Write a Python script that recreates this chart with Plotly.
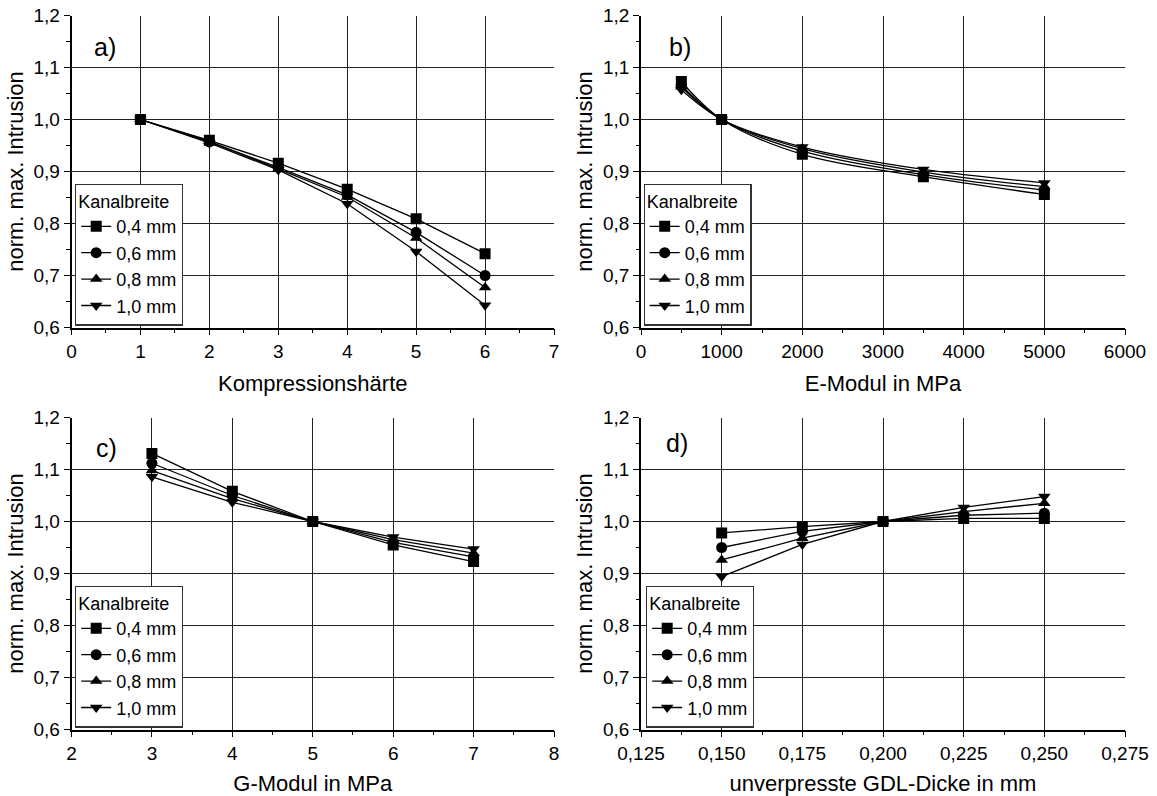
import plotly.graph_objects as go

# ---------------- data ----------------
series_names = ["0,4 mm", "0,6 mm", "0,8 mm", "1,0 mm"]
symbols = ["square", "circle", "triangle-up", "triangle-down"]

x_a = [1, 2, 3, 4, 5, 6]
y_a_04 = [1.0, 0.960, 0.916, 0.866, 0.809, 0.742]
y_a_06 = [1.0, 0.957, 0.908, 0.855, 0.783, 0.700]
y_a_08 = [1.0, 0.958, 0.905, 0.851, 0.772, 0.677]
y_a_10 = [1.0, 0.955, 0.903, 0.838, 0.746, 0.643]

x_b = [500, 1000, 2000, 3500, 5000]
y_b_04 = [1.073, 1.0, 0.933, 0.890, 0.856]
y_b_06 = [1.066, 1.0, 0.939, 0.894, 0.864]
y_b_08 = [1.063, 1.0, 0.944, 0.899, 0.871]
y_b_10 = [1.057, 1.0, 0.947, 0.904, 0.878]

x_c = [3, 4, 5, 6, 7]
y_c_04 = [1.131, 1.058, 1.0, 0.955, 0.923]
y_c_06 = [1.112, 1.050, 1.0, 0.960, 0.932]
y_c_08 = [1.098, 1.044, 1.0, 0.965, 0.939]
y_c_10 = [1.086, 1.037, 1.0, 0.970, 0.947]

x_d = [0.150, 0.175, 0.200, 0.225, 0.250]
y_d_04 = [0.978, 0.990, 1.0, 1.006, 1.006]
y_d_06 = [0.950, 0.981, 1.0, 1.012, 1.016]
y_d_08 = [0.926, 0.968, 1.0, 1.019, 1.035]
y_d_10 = [0.894, 0.956, 1.0, 1.027, 1.048]

panels = [
    dict(x=x_a, ys=[y_a_04, y_a_06, y_a_08, y_a_10], shape="linear"),
    dict(x=x_b, ys=[y_b_04, y_b_06, y_b_08, y_b_10], shape="spline"),
    dict(x=x_c, ys=[y_c_04, y_c_06, y_c_08, y_c_10], shape="linear"),
    dict(x=x_d, ys=[y_d_04, y_d_06, y_d_08, y_d_10], shape="linear"),
]
x_titles = ["Kompressionshärte", "E-Modul in MPa", "G-Modul in MPa",
            "unverpresste GDL-Dicke in mm"]
y_title = "norm. max. Intrusion"
panel_labels = ["a)", "b)", "c)", "d)"]
legend_title = "Kanalbreite"

# ---------------- layout ----------------
W, H = 1157, 796
FONT = "Liberation Sans, Arial, sans-serif"
xdoms = [[71.5 / W, 554 / W], [641 / W, 1125 / W]]
ydoms = [[1 - 327.5 / H, 1 - 15.5 / H], [1 - 729.5 / H, 1 - 417.5 / H]]

x_axes_cfg = [
    dict(range=[0, 7], dtick=1, tick0=0, minor_dtick=0.5, fmt="d"),
    dict(range=[0, 6000], dtick=1000, tick0=0, minor_dtick=500, fmt="d"),
    dict(range=[2, 8], dtick=1, tick0=2, minor_dtick=0.5, fmt="d"),
    dict(range=[0.125, 0.275], dtick=0.025, tick0=0.125, minor_dtick=0.0125, fmt=".3f"),
]

legend_pos = [
    (75 / W, 1 - 325.5 / H),
    (643.5 / W, 1 - 325.5 / H),
    (75 / W, 1 - 727.5 / H),
    (646 / W, 1 - 727.5 / H),
]
label_pos = [(0.07, 0.90), (0.081, 0.90), (0.072, 0.902), (0.075, 0.918)]
title_standoff = [15, 15, 13, 13]

fig = go.Figure()
layout = dict(
    width=W, height=H,
    margin=dict(l=0, r=0, t=0, b=0),
    paper_bgcolor="white", plot_bgcolor="white",
    font=dict(family=FONT, size=19, color="black"),
    separators=",.",
    annotations=[],
)

for i, p in enumerate(panels):
    idx = "" if i == 0 else str(i + 1)
    leg = "legend" if i == 0 else f"legend{i + 1}"
    for s, ys in enumerate(p["ys"]):
        fig.add_trace(go.Scatter(
            x=p["x"], y=ys, mode="lines+markers",
            name=series_names[s],
            line=dict(color="black", width=1.3, shape=p["shape"]),
            marker=dict(symbol=symbols[s], size=11, color="black"),
            xaxis="x" + idx, yaxis="y" + idx,
            legend=leg, showlegend=True,
        ))
    col = i % 2
    row = i // 2
    xc = x_axes_cfg[i]
    layout["xaxis" + idx] = dict(
        domain=xdoms[col], anchor="y" + idx, range=xc["range"],
        tickmode="linear", tick0=xc["tick0"], dtick=xc["dtick"], tickformat=xc["fmt"],
        ticks="outside", ticklen=6, tickwidth=1.3, tickcolor="black",
        minor=dict(ticks="outside", ticklen=3.5, tickwidth=1.2, tickcolor="black",
                   dtick=xc["minor_dtick"], showgrid=False),
        showline=True, linecolor="black", linewidth=1.5,
        showgrid=True, gridcolor="#222222", gridwidth=1.2,
        zeroline=False, automargin=False,
        tickfont=dict(size=19, family=FONT),
        title=dict(text=x_titles[i], font=dict(size=22, family=FONT),
                   standoff=title_standoff[i]),
    )
    layout["yaxis" + idx] = dict(
        domain=ydoms[row], anchor="x" + idx, range=[0.6, 1.2],
        tickmode="linear", tick0=0.6, dtick=0.1, tickformat=".1f",
        ticks="outside", ticklen=6, tickwidth=1.3, tickcolor="black",
        minor=dict(ticks="outside", ticklen=3.5, tickwidth=1.2, tickcolor="black",
                   dtick=0.05, showgrid=False),
        showline=True, linecolor="black", linewidth=1.5,
        showgrid=True, gridcolor="#222222", gridwidth=1.2,
        zeroline=False, automargin=False,
        tickfont=dict(size=19, family=FONT),
        title=dict(text=y_title, font=dict(size=22, family=FONT), standoff=4),
    )
    lx, ly = legend_pos[i]
    layout[leg] = dict(
        x=lx, y=ly, xanchor="left", yanchor="bottom",
        bgcolor="white", bordercolor="#333333", borderwidth=1.2,
        font=dict(size=18, family=FONT),
        title=dict(text=legend_title, font=dict(size=18, family=FONT)),
        tracegroupgap=0, itemwidth=30,
    )
    ax, ay = label_pos[i]
    layout["annotations"].append(dict(
        text=panel_labels[i], xref=f"x{idx} domain", yref=f"y{idx} domain",
        x=ax, y=ay, xanchor="center", yanchor="middle", showarrow=False,
        font=dict(size=25, family=FONT, color="black"),
    ))

fig.update_layout(**layout)
fig.write_html("out.html")
